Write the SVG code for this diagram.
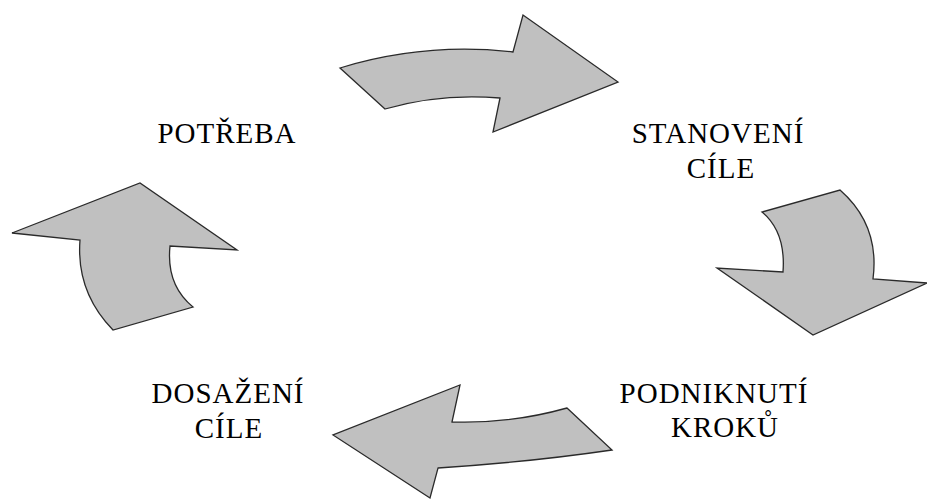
<svg xmlns="http://www.w3.org/2000/svg" width="927" height="500" viewBox="0 0 927 500">
<style>
.arrow{fill:#c0c0c0;stroke:#2a2a2a;stroke-width:1.3;stroke-linejoin:miter}
.lbl{font-family:"Liberation Serif","Times New Roman",serif;font-size:29px;letter-spacing:1px;fill:#000;text-anchor:middle}
</style>
<rect width="927" height="500" fill="#fff"/>
<g id="connectors">
<path id="arrow-top" class="arrow" d="M340,68 Q425,42 513,52 L523,15 L618,82 L493,132 L500,98 Q440,93 385,109 Z"/>
<path id="arrow-right" class="arrow" d="M762,212 Q786,232 783,272 L717,268 L813,335 L927,283 L873,279 Q880,225 840,190 Z"/>
<path id="arrow-bottom" class="arrow" d="M567,408 Q510,424 452,422 L460,385 L333,435 L430,498 L438,468 Q530,462 612,450 Z"/>
<path id="arrow-left" class="arrow" d="M113,330 Q76,292 80,240 L12,233 L140,183 L237,250 L170,246 Q166,285 193,307 Z"/>
</g>
<g id="node-potreba"><text class="lbl" x="227" y="143">POTŘEBA</text></g>
<g id="node-stanoveni"><text class="lbl" x="718" y="143">STANOVENÍ</text><text class="lbl" x="721" y="178">CÍLE</text></g>
<g id="node-podniknuti"><text class="lbl" x="714" y="403">PODNIKNUTÍ</text><text class="lbl" x="725" y="437">KROKŮ</text></g>
<g id="node-dosazeni"><text class="lbl" x="228" y="403">DOSAŽENÍ</text><text class="lbl" x="229" y="438">CÍLE</text></g>
</svg>
